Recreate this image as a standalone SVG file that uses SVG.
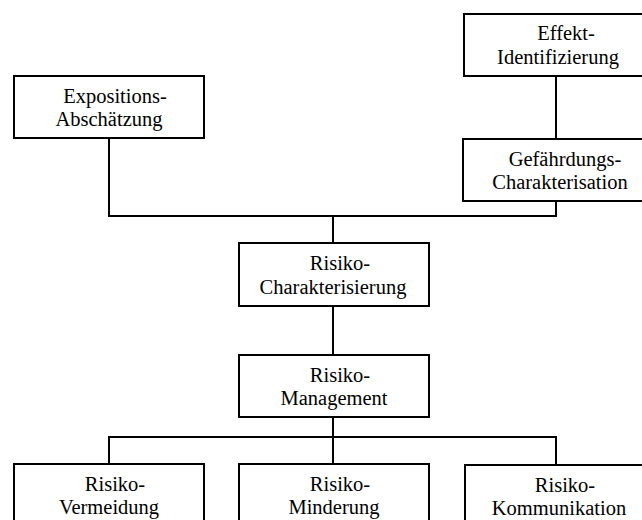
<svg xmlns="http://www.w3.org/2000/svg" width="642" height="520" viewBox="0 0 642 520">
<style>
.box{fill:#fff;stroke:#000;stroke-width:2}
.c{fill:none;stroke:#000;stroke-width:2}
svg g text{font-family:'Liberation Serif',serif !important}
</style>
<rect width="642" height="520" fill="#fff"/>
<g id="connectors">
<polyline class="c" points="109,138 109,216 556,216 556,201"/>
<line class="c" x1="556" y1="76" x2="556" y2="139"/>
<line class="c" x1="333" y1="216" x2="333" y2="243"/>
<line class="c" x1="333" y1="306" x2="333" y2="355"/>
<line class="c" x1="333" y1="417" x2="333" y2="464"/>
<polyline class="c" points="109,464 109,437 556,437 556,465"/>
</g>
<g id="expositions">
<rect class="box" x="14" y="76" width="190" height="62"/>
<text x="115" y="103" style="font-family:'Liberation Serif',serif" font-size="20.5" text-anchor="middle">Expositions-</text>
<text x="109" y="126" style="font-family:'Liberation Serif',serif" font-size="20.5" text-anchor="middle">Abschätzung</text>
</g>
<g id="effekt">
<rect class="box" x="464" y="14" width="190" height="62"/>
<text x="566" y="40" style="font-family:'Liberation Serif',serif" font-size="20.5" text-anchor="middle">Effekt-</text>
<text x="558" y="64" style="font-family:'Liberation Serif',serif" font-size="20.5" text-anchor="middle">Identifizierung</text>
</g>
<g id="gefaehrdung">
<rect class="box" x="463" y="139" width="190" height="62"/>
<text x="565" y="166" style="font-family:'Liberation Serif',serif" font-size="20.5" text-anchor="middle">Gefährdungs-</text>
<text x="560" y="189" style="font-family:'Liberation Serif',serif" font-size="20.5" text-anchor="middle">Charakterisation</text>
</g>
<g id="charakterisierung">
<rect class="box" x="239" y="243" width="190" height="63"/>
<text x="340" y="270" style="font-family:'Liberation Serif',serif" font-size="20.5" text-anchor="middle">Risiko-</text>
<text x="333" y="294" style="font-family:'Liberation Serif',serif" font-size="20.5" text-anchor="middle">Charakterisierung</text>
</g>
<g id="management">
<rect class="box" x="239" y="355" width="190" height="62"/>
<text x="340" y="382" style="font-family:'Liberation Serif',serif" font-size="20.5" text-anchor="middle">Risiko-</text>
<text x="334" y="405" style="font-family:'Liberation Serif',serif" font-size="20.5" text-anchor="middle">Management</text>
</g>
<g id="vermeidung">
<rect class="box" x="14" y="464" width="190" height="70"/>
<text x="115" y="491" style="font-family:'Liberation Serif',serif" font-size="20.5" text-anchor="middle">Risiko-</text>
<text x="109" y="514" style="font-family:'Liberation Serif',serif" font-size="20.5" text-anchor="middle">Vermeidung</text>
</g>
<g id="minderung">
<rect class="box" x="239" y="464" width="190" height="70"/>
<text x="340" y="491" style="font-family:'Liberation Serif',serif" font-size="20.5" text-anchor="middle">Risiko-</text>
<text x="334" y="514" style="font-family:'Liberation Serif',serif" font-size="20.5" text-anchor="middle">Minderung</text>
</g>
<g id="kommunikation">
<rect class="box" x="465" y="465" width="190" height="70"/>
<text x="565" y="492" style="font-family:'Liberation Serif',serif" font-size="20.5" text-anchor="middle">Risiko-</text>
<text x="559" y="515" style="font-family:'Liberation Serif',serif" font-size="20.5" text-anchor="middle">Kommunikation</text>
</g>
</svg>
